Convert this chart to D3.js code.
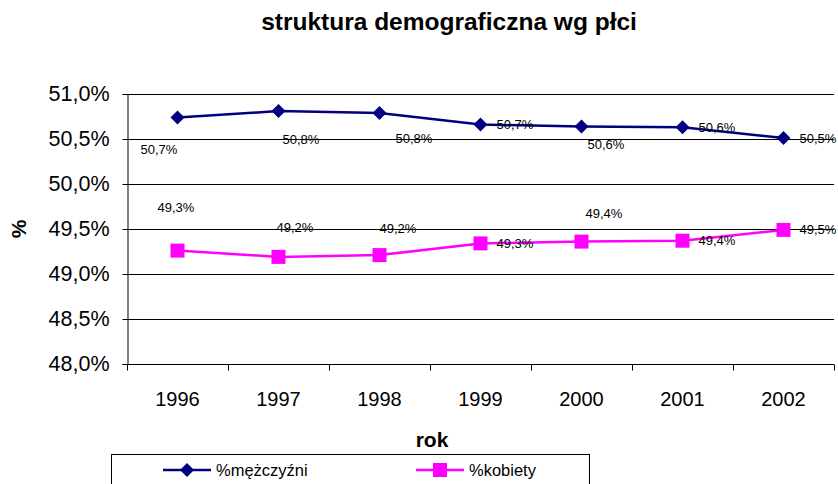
<!DOCTYPE html>
<html>
<head>
<meta charset="utf-8">
<script src="https://cdn.jsdelivr.net/npm/d3@7"></script>
<style>
  body { margin: 0; background: #fff; }
  svg { font-family: Arial, "Liberation Sans", sans-serif; }
</style>
</head>
<body>
<svg width="838" height="484"></svg>
<script>
const years = ['1996', '1997', '1998', '1999', '2000', '2001', '2002'];
const men = [50.74, 50.81, 50.79, 50.66, 50.64, 50.63, 50.51];
const women = [49.26, 49.19, 49.21, 49.34, 49.36, 49.37, 49.49];
const yTicks = [48.0, 48.5, 49.0, 49.5, 50.0, 50.5, 51.0];

// where Excel dropped the data labels (offset from the point, px)
const menLabelOffsets = [[-37, 32], [4, 28], [16, 26], [16, 0], [6, 18], [16, 0], [16, 0]];
const womenLabelOffsets = [[-20, -43], [-2, -29], [0, -27], [16, 0], [4, -28], [16, 0], [16, 0]];

const svg = d3.select('svg');
const margin = { top: 94, left: 127, right: 4, bottom: 120 };
const innerWidth = 838 - margin.left - margin.right;
const innerHeight = 484 - margin.top - margin.bottom;

const fmt = v => d3.format('.1f')(v).replace('.', ',') + '%';

const xScale = d3.scaleBand().domain(years).range([0, innerWidth]);
const yScale = d3.scaleLinear().domain([48, 51]).range([innerHeight, 0]);

const g = svg.append('g')
  .attr('transform', `translate(${margin.left},${margin.top})`);

// gridlines
g.append('g')
  .selectAll('line').data(yTicks.filter(d => d > 48))
  .enter().append('line')
    .attr('x1', 0).attr('x2', innerWidth)
    .attr('y1', d => Math.round(yScale(d)) + 0.5)
    .attr('y2', d => Math.round(yScale(d)) + 0.5)
    .attr('stroke', '#000')
    .attr('stroke-width', 1);

// y axis
const yAxis = d3.axisLeft(yScale)
  .tickValues(yTicks)
  .tickSize(5)
  .tickPadding(13)
  .tickFormat(fmt);
const yAxisG = g.append('g').attr('transform', 'translate(0.5,0)').call(yAxis);
yAxisG.selectAll('text').attr('font-size', 21.5).attr('fill', '#000');
yAxisG.selectAll('line, path').attr('stroke', '#000');

// x axis: ticks between categories
const xAxisG = g.append('g').attr('transform', `translate(0,${innerHeight + 0.5})`);
xAxisG.append('line')
  .attr('x1', 0).attr('x2', innerWidth)
  .attr('stroke', '#000');
xAxisG.selectAll('.tick-mark').data(years.concat(['end']))
  .enter().append('line')
    .attr('class', 'tick-mark')
    .attr('x1', (d, i) => Math.round(i * xScale.step()) + 0.5)
    .attr('x2', (d, i) => Math.round(i * xScale.step()) + 0.5)
    .attr('y1', 0).attr('y2', 6)
    .attr('stroke', '#000');
xAxisG.selectAll('.year').data(years)
  .enter().append('text')
    .attr('class', 'year')
    .attr('x', d => xScale(d) + xScale.bandwidth() / 2)
    .attr('y', 41)
    .attr('text-anchor', 'middle')
    .attr('font-size', 20)
    .text(d => d);

const cx = d => xScale(d) + xScale.bandwidth() / 2;

const drawSeries = (values, color, marker, offsets) => {
  const pts = years.map((y, i) => ({ year: y, value: values[i], off: offsets[i] }));
  const line = d3.line().x(d => cx(d.year)).y(d => yScale(d.value));
  g.append('path')
    .datum(pts)
    .attr('d', line)
    .attr('fill', 'none')
    .attr('stroke', color)
    .attr('stroke-width', 2.5);
  g.append('g').selectAll('path').data(pts)
    .enter().append('path')
      .attr('transform', d => `translate(${cx(d.year)},${yScale(d.value)})`)
      .attr('d', marker)
      .attr('fill', color);
  g.append('g').selectAll('text').data(pts)
    .enter().append('text')
      .attr('x', d => cx(d.year) + d.off[0])
      .attr('y', d => yScale(d.value) + d.off[1])
      .attr('dy', '0.35em')
      .attr('font-size', 13)
      .attr('fill', '#000')
      .text(d => fmt(d.value));
};

const diamond = 'M0,-7L7,0L0,7L-7,0Z';
const square = 'M-7,-7H7V7H-7Z';

drawSeries(men, '#000080', diamond, menLabelOffsets);
drawSeries(women, '#FF00FF', square, womenLabelOffsets);

// titles
svg.append('text')
  .attr('x', 449).attr('y', 30)
  .attr('text-anchor', 'middle')
  .attr('font-size', 24.5)
  .attr('font-weight', 'bold')
  .text('struktura demograficzna wg płci');

svg.append('text')
  .attr('transform', 'translate(26,229) rotate(-90)')
  .attr('text-anchor', 'middle')
  .attr('font-size', 21)
  .attr('font-weight', 'bold')
  .text('%');

svg.append('text')
  .attr('x', 432).attr('y', 447)
  .attr('text-anchor', 'middle')
  .attr('font-size', 21)
  .attr('font-weight', 'bold')
  .text('rok');

// legend
const legend = svg.append('g');
legend.append('rect')
  .attr('x', 111.5).attr('y', 454.5)
  .attr('width', 478).attr('height', 40)
  .attr('fill', '#fff')
  .attr('stroke', '#000');

const legendItems = [
  { name: '%mężczyźni', color: '#000080', marker: diamond, x: 163 },
  { name: '%kobiety', color: '#FF00FF', marker: square, x: 416 }
];
const item = legend.selectAll('.item').data(legendItems)
  .enter().append('g')
    .attr('class', 'item')
    .attr('transform', d => `translate(${d.x},470)`);
item.append('line')
  .attr('x1', 0).attr('x2', 48)
  .attr('stroke', d => d.color)
  .attr('stroke-width', 2.5);
item.append('path')
  .attr('transform', 'translate(24,0)')
  .attr('d', d => d.marker)
  .attr('fill', d => d.color);
item.append('text')
  .attr('x', 53)
  .attr('dy', '0.35em')
  .attr('font-size', 16.5)
  .text(d => d.name);
</script>
</body>
</html>
